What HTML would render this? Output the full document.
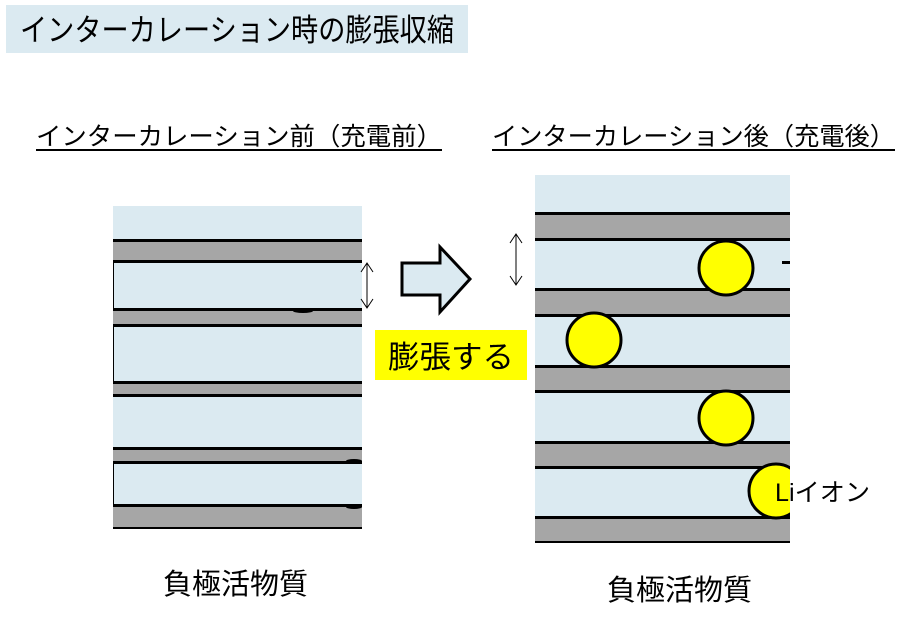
<!DOCTYPE html>
<html><head><meta charset="utf-8"><style>
html,body{margin:0;padding:0;background:#fff;}
svg{display:block;}
text{font-family:"Liberation Sans","Noto Sans CJK JP",sans-serif;fill:#000;}
</style></head><body>
<svg width="914" height="621" viewBox="0 0 914 621" xmlns="http://www.w3.org/2000/svg">
<rect x="6" y="5" width="462" height="48" fill="#dbeaf1"/>
<text x="20" y="41" font-size="31" textLength="434" lengthAdjust="spacingAndGlyphs">インターカレーション時の膨張収縮</text>

<text x="36" y="145" font-size="25" textLength="406" lengthAdjust="spacingAndGlyphs">インターカレーション前（充電前）</text>
<rect x="36" y="149" width="406" height="2" fill="#000"/>
<text x="492" y="145" font-size="25" textLength="403" lengthAdjust="spacingAndGlyphs">インターカレーション後（充電後）</text>
<rect x="492" y="149" width="403" height="2" fill="#000"/>

<!-- left panel -->
<rect x="113" y="206" width="249" height="322" fill="#dbeaf1"/>
<g fill="#a6a6a6">
<rect x="113" y="241" width="249" height="20"/>
<rect x="113" y="310" width="249" height="15"/>
<rect x="113" y="383" width="249" height="12"/>
<rect x="113" y="449" width="249" height="13"/>
<rect x="113" y="506" width="249" height="22"/>
</g>
<g fill="#000">
<rect x="113" y="239" width="249" height="3"/>
<rect x="113" y="260" width="249" height="3"/>
<rect x="113" y="308" width="249" height="3"/>
<rect x="113" y="324" width="249" height="3"/>
<rect x="113" y="381" width="249" height="3"/>
<rect x="113" y="394" width="249" height="3"/>
<rect x="113" y="447" width="249" height="3"/>
<rect x="113" y="461" width="249" height="3"/>
<rect x="113" y="504" width="249" height="3"/>
<rect x="113" y="527" width="249" height="2"/>
<rect x="113" y="263" width="1" height="45"/>
<rect x="113" y="327" width="1" height="54"/>
<rect x="113" y="464" width="1" height="40"/>
</g>
<ellipse cx="303" cy="311" rx="10" ry="2" fill="#000"/>
<ellipse cx="354" cy="461" rx="8" ry="2" fill="#000"/>
<ellipse cx="354" cy="507" rx="8" ry="2" fill="#000"/>

<!-- double arrows -->
<g stroke="#000" stroke-width="1" fill="none">
<line x1="367" y1="263" x2="367" y2="308"/>
<polyline points="361,272 367,263 373,272"/><polyline points="361,299 367,308 373,299"/>
<line x1="516" y1="234" x2="516" y2="285"/>
<polyline points="510,243 516,234 522,243"/><polyline points="510,276 516,285 522,276"/>
</g>

<!-- block arrow -->
<polygon points="402,263 440,263 440,247 470,279 440,312 440,295 402,295" fill="#dbeaf1" stroke="#000" stroke-width="3" stroke-linejoin="miter"/>

<rect x="375" y="330" width="152" height="50" fill="#ffff00"/>
<text x="388" y="368" font-size="31" textLength="126" lengthAdjust="spacingAndGlyphs">膨張する</text>

<!-- right panel -->
<rect x="535" y="175" width="255" height="368" fill="#dbeaf1"/>
<g fill="#a6a6a6">
<rect x="535" y="214" width="255" height="25"/>
<rect x="535" y="290" width="255" height="25"/>
<rect x="535" y="367" width="255" height="24"/>
<rect x="535" y="443" width="255" height="24"/>
<rect x="535" y="518" width="255" height="25"/>
</g>
<g fill="#000">
<rect x="535" y="212" width="255" height="3"/>
<rect x="535" y="238" width="255" height="3"/>
<rect x="535" y="288" width="255" height="3"/>
<rect x="535" y="314" width="255" height="3"/>
<rect x="535" y="365" width="255" height="3"/>
<rect x="535" y="390" width="255" height="3"/>
<rect x="535" y="441" width="255" height="3"/>
<rect x="535" y="466" width="255" height="3"/>
<rect x="535" y="516" width="255" height="3"/>
<rect x="535" y="541" width="255" height="2"/>
<rect x="782" y="261" width="8" height="3"/>
</g>
<g fill="#ffff00" stroke="#000" stroke-width="3">
<circle cx="726" cy="268" r="27"/>
<circle cx="594" cy="340" r="27"/>
<circle cx="726" cy="418" r="27"/>
</g>
<clipPath id="c"><rect x="535" y="175" width="255" height="368"/></clipPath>
<circle cx="776" cy="491" r="27" fill="#ffff00" stroke="#000" stroke-width="3" clip-path="url(#c)"/>
<text x="775" y="501" font-size="25" textLength="95" lengthAdjust="spacingAndGlyphs">Liイオン</text>

<text x="163" y="594" font-size="29" textLength="145" lengthAdjust="spacingAndGlyphs">負極活物質</text>
<text x="607" y="600" font-size="29" textLength="145" lengthAdjust="spacingAndGlyphs">負極活物質</text>
</svg>
</body></html>
